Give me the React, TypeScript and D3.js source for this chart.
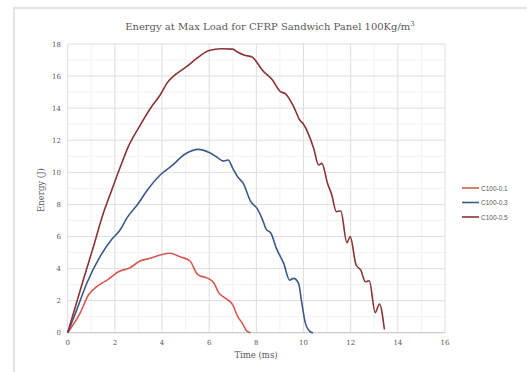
import React from "react";
import * as d3 from "d3";

const title = "Energy at Max Load for CFRP Sandwich Panel 100Kg/m";
const xTicks = [0, 2, 4, 6, 8, 10, 12, 14, 16];
const yTicks = [0, 2, 4, 6, 8, 10, 12, 14, 16, 18];
const seriesNames = ["C100-0.1", "C100-0.3", "C100-0.5"];
const seriesColors = ["#d45a52", "#3d5a87", "#8a3436"];

const c01: [number, number][] = [
  [0, 0], [0.52, 1.2], [0.88, 2.35], [1.23, 2.87], [1.72, 3.33], [2.15, 3.8],
  [2.64, 4.05], [3.07, 4.47], [3.49, 4.64], [3.92, 4.84], [4.34, 4.95], [4.76, 4.74],
  [5.19, 4.47], [5.47, 3.7], [5.6, 3.55], [5.9, 3.42], [6.2, 3.1],
  [6.4, 2.5], [6.7, 2.14], [7.0, 1.73], [7.2, 1.04], [7.4, 0.6], [7.6, 0.1], [7.75, 0],
];
const c03: [number, number][] = [
  [0, 0], [0.38, 1.41], [0.81, 3.08], [1.37, 4.74], [1.87, 5.82], [2.22, 6.4], [2.5, 7.13],
  [3.0, 8.07], [3.38, 8.9], [3.92, 9.83], [4.41, 10.4], [4.98, 11.14],
  [5.54, 11.43], [6.0, 11.23], [6.3, 10.98], [6.6, 10.7],
  [6.8, 10.77], [7.0, 10.25], [7.2, 9.73], [7.45, 9.3], [7.75, 8.2], [8.03, 7.75],
  [8.24, 7.13], [8.42, 6.44], [8.62, 6.2], [8.85, 5.26], [9.16, 4.32], [9.41, 3.28],
  [9.58, 3.39], [9.79, 3.08], [9.93, 1.83], [10.08, 0.58], [10.29, 0.06], [10.4, 0],
];
const c05: [number, number][] = [
  [0, 0], [0.66, 3.28], [1.09, 5.36], [1.51, 7.44], [1.87, 8.9], [2.29, 10.56],
  [2.57, 11.6], [3.04, 12.85], [3.56, 14.1], [3.92, 14.82], [4.23, 15.6], [4.55, 16.07],
  [5.05, 16.6], [5.47, 17.1], [6.0, 17.6],
  [6.5, 17.7], [7.0, 17.68], [7.2, 17.5], [7.5, 17.3], [7.8, 17.2], [8.31, 16.28],
  [8.66, 15.8], [9.02, 15.03], [9.23, 14.9], [9.58, 14.1], [9.84, 13.26], [10.0, 13.0],
  [10.43, 11.5], [10.64, 10.46], [10.78, 10.56], [11.02, 9.3], [11.2, 8.59],
  [11.39, 7.55], [11.58, 7.59], [11.84, 5.61], [11.98, 5.99], [12.23, 4.22],
  [12.43, 3.9], [12.62, 3.18], [12.79, 3.24], [13.04, 1.25], [13.22, 1.79], [13.43, 0.2],
];
const seriesData = [c01, c03, c05];

export default function App() {
  const W = 527, H = 372;
  const x = d3.scaleLinear().domain([0, 16]).range([67.7, 445]);
  const y = d3.scaleLinear().domain([0, 18]).range([332.7, 44]);
  const line = d3.line<[number, number]>().x(d => x(d[0])).y(d => y(d[1])).curve(d3.curveMonotoneX);
  const minorX = d3.range(1, 16, 2);
  const minorY = d3.range(1, 18, 2);
  const serif = "'DejaVu Serif', serif";
  const txt = "#595959";
  return (
    <svg width={W} height={H} style={{ position: "absolute", left: 0, top: 0 }}>
      <rect width={W} height={H} fill="#fff" />
      <path d={`M14,${H} L14,8 L${W},8`} fill="none" stroke="#dcdcdc" strokeWidth={1.5} />
      <text x={270} y={30} textAnchor="middle" fontFamily={serif} fontSize={10} fill={txt}>
        {title}<tspan dy={-4} fontSize={7}>3</tspan>
      </text>
      {minorX.map(v => <line key={"mx" + v} x1={x(v)} x2={x(v)} y1={y(0)} y2={y(18)} stroke="#f2f2f2" />)}
      {minorY.map(v => <line key={"my" + v} x1={x(0)} x2={x(16)} y1={y(v)} y2={y(v)} stroke="#f2f2f2" />)}
      {xTicks.map(v => <line key={"gx" + v} x1={x(v)} x2={x(v)} y1={y(0)} y2={y(18)} stroke="#dedede" />)}
      {yTicks.map(v => <line key={"gy" + v} x1={x(0)} x2={x(16)} y1={y(v)} y2={y(v)} stroke="#dedede" />)}
      <line x1={x(0)} x2={x(16)} y1={y(0)} y2={y(0)} stroke="#cfcfcf" strokeWidth={1.2} />
      {yTicks.map(v => (
        <text key={"ty" + v} x={61} y={y(v) + 2.5} textAnchor="end" fontFamily={serif} fontSize={7} fill={txt}>{v}</text>
      ))}
      {xTicks.map(v => (
        <text key={"tx" + v} x={x(v)} y={345} textAnchor="middle" fontFamily={serif} fontSize={7} fill={txt}>{v}</text>
      ))}
      <text x={256} y={358} textAnchor="middle" fontFamily={serif} fontSize={8.5} fill={txt}>Time (ms)</text>
      <text transform={`translate(44,190) rotate(-90)`} textAnchor="middle" fontFamily={serif} fontSize={8.5} fill={txt}>Energy (J)</text>
      {seriesData.map((d, i) => (
        <path key={"s" + i} d={line(d) || ""} fill="none" stroke={seriesColors[i]} strokeWidth={1.6} />
      ))}
      {seriesNames.map((n, i) => (
        <g key={"lg" + i}>
          <line x1={462} x2={479} y1={188 + i * 14.5} y2={188 + i * 14.5} stroke={seriesColors[i]} strokeWidth={1.6} />
          <text x={481} y={190.5 + i * 14.5} fontFamily="'Liberation Sans', sans-serif" fontSize={6.5} fill={txt}>{n}</text>
        </g>
      ))}
    </svg>
  );
}
